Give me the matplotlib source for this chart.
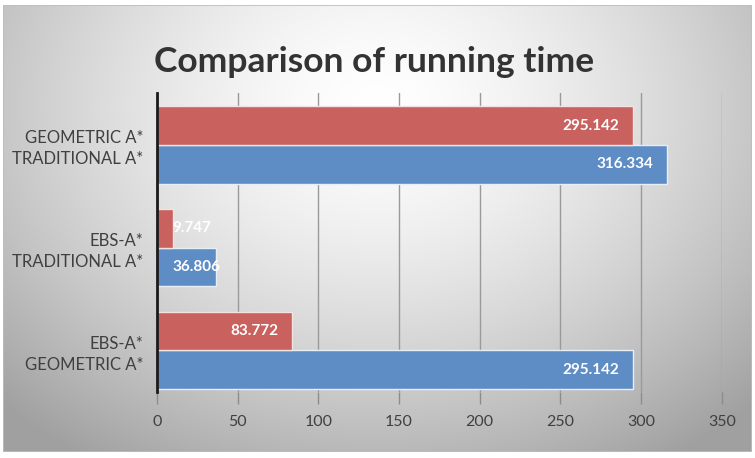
import numpy as np
import matplotlib
matplotlib.use("Agg")
import matplotlib.pyplot as plt
from matplotlib.patches import Rectangle

plt.rcParams["font.family"] = ["Lato", "DejaVu Sans"]

categories = ["EBS-A*\nGEOMETRIC A*", "EBS-A*\nTRADITIONAL A*", "GEOMETRIC A*\nTRADITIONAL A*"]
red_values = [83.772, 9.747, 295.142]
blue_values = [295.142, 36.806, 316.334]
xticks = [0, 50, 100, 150, 200, 250, 300, 350]

red = "#c9625f"
blue = "#5e8dc6"

fig = plt.figure(figsize=(7.55, 4.58), dpi=100)

# radial grey gradient background inside a thin frame
bg = fig.add_axes([0.004, 0.013, 0.992, 0.976])
gx, gy = np.meshgrid(np.linspace(-1, 1, 400), np.linspace(-1, 1, 300))
r = np.sqrt((gx / 1.1) ** 2 + ((gy + 0.55) / 1.45) ** 2)
shade = 1.0 - 0.25 * np.clip(r, 0, 1.3) ** 1.5
bg.imshow(np.dstack([shade] * 3), aspect="auto", extent=[0, 1, 0, 1], origin="upper")
bg.add_patch(Rectangle((0, 0), 1, 1, transform=bg.transAxes, fill=False,
                       edgecolor="#bdbdbd", lw=1.2))
bg.set_axis_off()

ax = fig.add_axes([0.208, 1 - 392 / 458, 0.748, (392 - 93) / 458])
ax.patch.set_alpha(0)

y = np.arange(len(categories))
h = 0.375
ax.barh(y - h / 2, blue_values, height=h, color=blue, edgecolor="#e8eef6", lw=1, zorder=3)
ax.barh(y + h / 2, red_values, height=h, color=red, edgecolor="#f3e2e2", lw=1, zorder=3)

for vals, off in ((blue_values, -h / 2), (red_values, h / 2)):
    for yi, v in zip(y, vals):
        if v < 50:
            ax.annotate(f"{v:g}", (0, yi + off), xytext=(11, 0), textcoords="offset points",
                        ha="left", va="center", color="white", fontsize=11,
                        fontweight="bold", zorder=4)
        else:
            ax.annotate(f"{v:g}", (v, yi + off), xytext=(-10, 0), textcoords="offset points",
                        ha="right", va="center", color="white", fontsize=11,
                        fontweight="bold", zorder=4)

ax.set_xlim(0, 350)
ax.set_ylim(-0.404, 2.506)
ax.set_xticks(xticks)
ax.set_yticks(y)
ax.set_yticklabels(categories, fontsize=12, color="#404040", ha="right", linespacing=1.35)
ax.tick_params(axis="y", length=0, pad=10)
ax.tick_params(axis="x", length=8.5, color="#8c8c8c", width=1, pad=8,
               labelsize=11.5, labelcolor="#404040")
ax.grid(axis="x", color="#9a9a9a", lw=1, zorder=0)
for s in ("top", "right", "bottom"):
    ax.spines[s].set_visible(False)
ax.spines["left"].set_color("#1a1a1a")
ax.spines["left"].set_linewidth(2)
ax.spines["left"].set_zorder(5)

fig.text(0.496, 1 - 62 / 458, "Comparison of running time", ha="center", va="center",
         fontsize=25.5, fontweight="bold", color="#333333")

fig.savefig("out.png", dpi=100)
